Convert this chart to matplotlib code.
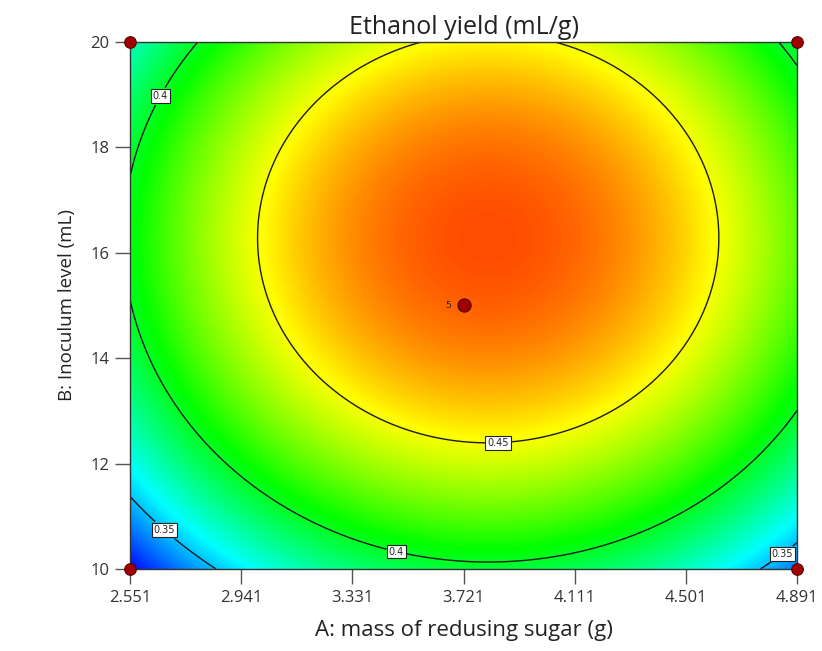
import numpy as np
import matplotlib
matplotlib.use("Agg")
import matplotlib.pyplot as plt
from matplotlib.colors import LinearSegmentedColormap

# Factor ranges (actual units)
a_low, a_center, a_high = 2.551, 3.721, 4.891   # mass of reducing sugar (g)
b_low, b_center, b_high = 10.0, 15.0, 20.0      # inoculum level (mL)

# Quadratic model in coded factors: b0, A, B, AB, A^2, B^2
model_terms = ["Intercept", "A", "B", "AB", "A^2", "B^2"]
model_coefs = [0.4793, 0.0103, 0.0282, 0.0, -0.0696, -0.0551]

# Design points (actual units) and replicate counts
design_a = [2.551, 2.551, 4.891, 4.891, 3.721]
design_b = [10.0, 20.0, 10.0, 20.0, 15.0]
design_reps = [1, 1, 1, 1, 5]

contour_levels = [0.35, 0.40, 0.45]
x_ticks = [2.551, 2.941, 3.331, 3.721, 4.111, 4.501, 4.891]
x_tick_labels = ["2.551", "2.941", "3.331", "3.721", "4.111", "4.501", "4.891"]
y_ticks = [10, 12, 14, 16, 18, 20]

title = "Ethanol yield (mL/g)"
x_label = "A: mass of redusing sugar (g)"
y_label = "B: Inoculum level (mL)"


def predict(a, b):
    A = (a - a_center) / (a_high - a_center)
    B = (b - b_center) / (b_high - b_center)
    c = model_coefs
    return c[0] + c[1] * A + c[2] * B + c[3] * A * B + c[4] * A ** 2 + c[5] * B ** 2


plt.rcParams["font.family"] = ["Open Sans", "DejaVu Sans"]

fig = plt.figure(figsize=(8.22, 6.51), dpi=100)
ax = fig.add_axes([0.1582, 0.1260, 0.8114, 0.8095])

ga = np.linspace(a_low, a_high, 500)
gb = np.linspace(b_low, b_high, 500)
GA, GB = np.meshgrid(ga, gb)
Z = predict(GA, GB)

cmap = LinearSegmentedColormap.from_list(
    "rainbow_de", ["#0000ff", "#00ffff", "#00ff00", "#ffff00", "#ff0000"])
ax.imshow(Z, origin="lower", extent=[a_low, a_high, b_low, b_high],
          aspect="auto", cmap=cmap, vmin=0.315, vmax=0.497,
          interpolation="bilinear")

cs = ax.contour(GA, GB, Z, levels=contour_levels, colors="#1a1a1a",
                linewidths=1.0)
label_spots = [(2.646, 19.0), (2.698, 10.9), (3.49, 10.45),
               (3.842, 12.45), (4.835, 10.33)]
texts = ax.clabel(cs, fmt={0.35: "0.35", 0.40: "0.4", 0.45: "0.45"},
                  manual=label_spots, inline=True, inline_spacing=3,
                  fontsize=7)
for t in texts:
    t.set_rotation(0)
    t.set_family(["DejaVu Sans"])
    t.set_color("#222222")
    t.set_bbox(dict(boxstyle="square,pad=0.2", fc="white", ec="#222222",
                    lw=0.8))

# Design points
for a, b, n in zip(design_a, design_b, design_reps):
    size = 90 if n > 1 else 70
    ax.scatter([a], [b], s=size, color="#a00000", edgecolors="#5a0000",
               linewidths=0.8, zorder=5, clip_on=False)
    if n > 1:
        ax.annotate(str(n), (a, b), xytext=(-9, 0), textcoords="offset points",
                    ha="right", va="center", fontsize=6.5, color="#222222",
                    family=["DejaVu Sans"])

ax.set_xlim(a_low, a_high)
ax.set_ylim(b_low, b_high)
ax.set_xticks(x_ticks)
ax.set_xticklabels(x_tick_labels)
ax.set_yticks(y_ticks)
ax.tick_params(direction="out", length=11, width=1.0, color="#555555",
               labelsize=12, labelcolor="#333333", pad=4)
for s in ax.spines.values():
    s.set_color("#333333")
    s.set_linewidth(1.0)

ax.set_title(title, fontsize=18, color="#222222", pad=6)
ax.set_xlabel(x_label, fontsize=16, color="#222222", labelpad=10)
ax.set_ylabel(y_label, fontsize=13.5, color="#222222", labelpad=10,
              family=["Liberation Sans Narrow", "Open Sans", "DejaVu Sans"])

fig.savefig("out.png", dpi=100)
